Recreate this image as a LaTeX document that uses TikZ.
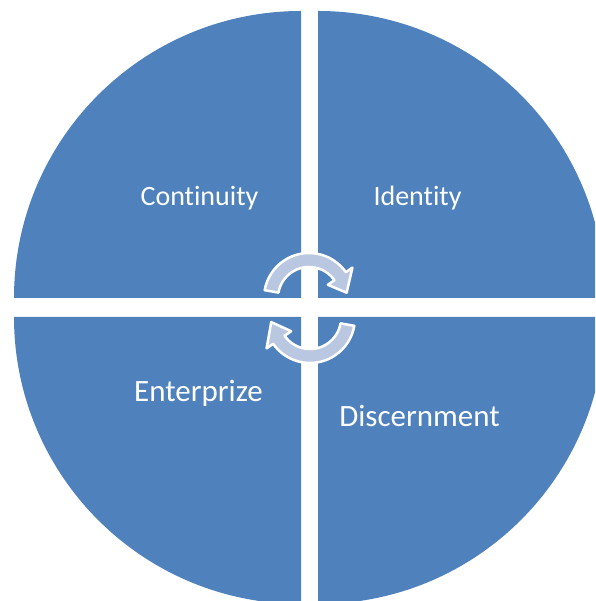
\documentclass[tikz,border=0pt]{standalone}
\usepackage{fontspec}
\setmainfont{Carlito}[Ligatures=NoCommon]
\definecolor{qblue}{HTML}{4F81BD}
\definecolor{arrowfill}{HTML}{B9C8E0}
\tikzset{
  quad/.style={fill=qblue},
  label/.style={text=white, anchor=base, inner sep=0pt},
  toplabel/.style={label, font=\fontsize{28}{32}\selectfont},
  botlabel/.style={label, font=\fontsize{31}{35}\selectfont},
  cyclearrow/.style={fill=arrowfill, draw=white, line width=2.5pt, line join=round}
}
\begin{document}
\begin{tikzpicture}[x=1pt,y=1pt]
\useasboundingbox (0,0) rectangle (595,601);
\clip (0,0) rectangle (595,601);
\fill[white] (0,0) rectangle (595,601);
% quadrants
\fill[quad] (301,303) -- (14,303) arc[start angle=180,end angle=90,radius=287pt] -- cycle;
\fill[quad] (318,303) -- (318,590) arc[start angle=90,end angle=0,radius=287pt] -- cycle;
\fill[quad] (301,284) -- (301,-3) arc[start angle=270,end angle=180,radius=287pt] -- cycle;
\fill[quad] (318,284) -- (605,284) arc[start angle=0,end angle=-90,radius=287pt] -- cycle;
% labels
\node[toplabel] (cont) at (199.5,395) {Continuity};
\node[toplabel] (iden) at (417.5,395) {Identity};
\node[botlabel] (ente) at (198.5,199) {Enterprize};
\node[botlabel] (disc) at (419.5,174) {Discernment};
% cycle arrows
\begin{scope}[shift={(309,303)}]
\draw[cyclearrow] (170:45pt) arc[start angle=170,end angle=35,radius=45pt]
  -- (35:53pt) -- (8:38pt) -- (35:23pt) -- (35:31pt)
  arc[start angle=35,end angle=170,radius=31pt] -- cycle;
\end{scope}
\begin{scope}[shift={(310,283)}]
\draw[cyclearrow] (-10:45pt) arc[start angle=-10,end angle=-145,radius=45pt]
  -- (-145:53pt) -- (-174:39pt) -- (-145:23pt) -- (-145:31pt)
  arc[start angle=-145,end angle=-10,radius=31pt] -- cycle;
\end{scope}
\end{tikzpicture}
\end{document}
